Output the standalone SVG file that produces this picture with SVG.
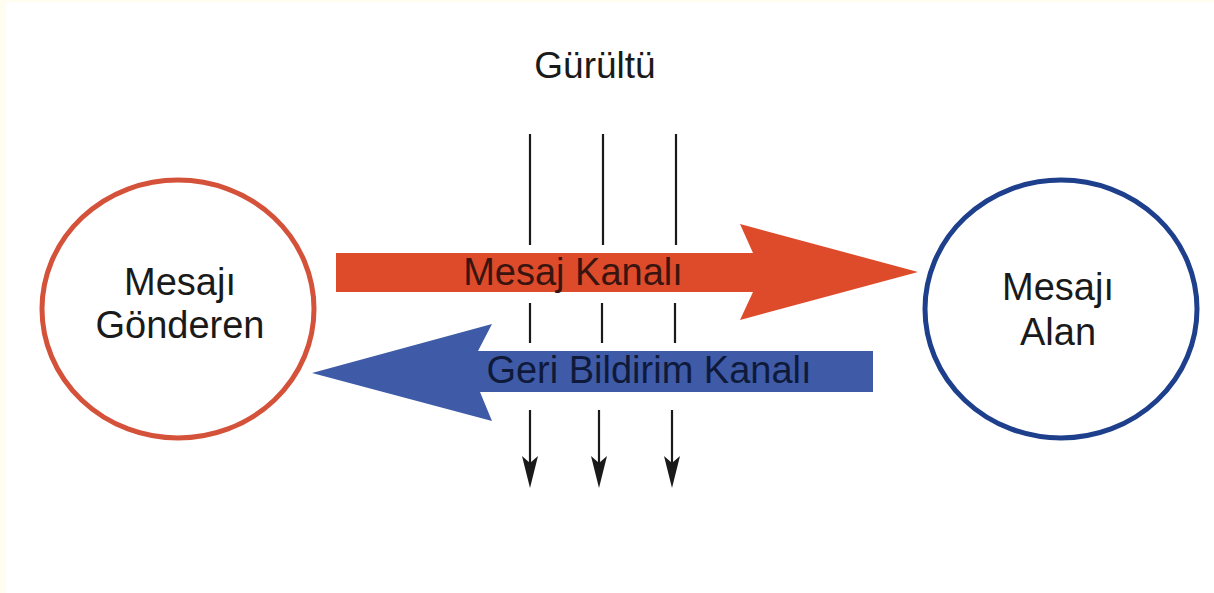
<svg xmlns="http://www.w3.org/2000/svg" width="1214" height="593" viewBox="0 0 1214 593">
<style>
.lbl{font-family:"Liberation Sans",Arial,Helvetica,sans-serif;font-size:37px;fill:#1a1a1a;text-anchor:middle}
.node{fill:#ffffff;stroke-width:5}
.noise{stroke:#1a1a1a;stroke-width:2.2;fill:none}
.nhead{fill:#1a1a1a}
</style>
<rect x="0" y="0" width="1214" height="593" fill="#fffdf0"/>
<rect x="6" y="2" width="1208" height="591" fill="#ffffff"/>
<g id="noise-label">
<text class="lbl" x="595" y="78" style="font-size:37px">Gürültü</text>
</g>
<g id="connectors">
<g id="noise-lines">
<line class="noise" x1="530" y1="134" x2="530" y2="245"/>
<line class="noise" x1="603" y1="134" x2="603" y2="245"/>
<line class="noise" x1="676" y1="134" x2="676" y2="245"/>
<line class="noise" x1="530" y1="303" x2="530" y2="343"/>
<line class="noise" x1="602" y1="303" x2="602" y2="343"/>
<line class="noise" x1="675" y1="303" x2="675" y2="343"/>
<line class="noise" x1="530" y1="410" x2="530" y2="465"/>
<line class="noise" x1="599" y1="410" x2="599" y2="465"/>
<line class="noise" x1="672" y1="410" x2="672" y2="465"/>
<path class="nhead" d="M530,488 L522,456 L530,463 L538,456 Z"/>
<path class="nhead" d="M599,488 L591,456 L599,463 L607,456 Z"/>
<path class="nhead" d="M672,488 L664,456 L672,463 L680,456 Z"/>
</g>
<g id="message-channel">
<polygon points="336,253 753,253 740,224 918,272 740,320 753,292 336,292" fill="#de4b2b"/>
<text class="lbl" x="573" y="285" style="font-size:38px;fill:#3a1510">Mesaj Kanalı</text>
</g>
<g id="feedback-channel">
<polygon points="873,351 478,351 492,324 312,373 492,421 480,392 873,392" fill="#3f5ba8"/>
<text class="lbl" x="649" y="383" style="font-size:38px;fill:#0f1a3a">Geri Bildirim Kanalı</text>
</g>
</g>
<g id="sender">
<ellipse class="node" cx="178" cy="309" rx="136" ry="129" stroke="#d4523a"/>
<text class="lbl" x="180" y="295" style="font-size:38px">Mesajı</text>
<text class="lbl" x="180" y="338" style="font-size:38px">Gönderen</text>
</g>
<g id="receiver">
<ellipse class="node" cx="1061" cy="309" rx="136" ry="129" stroke="#1e3f8c"/>
<text class="lbl" x="1058" y="300" style="font-size:38px">Mesajı</text>
<text class="lbl" x="1058" y="345" style="font-size:38px">Alan</text>
</g>
</svg>
